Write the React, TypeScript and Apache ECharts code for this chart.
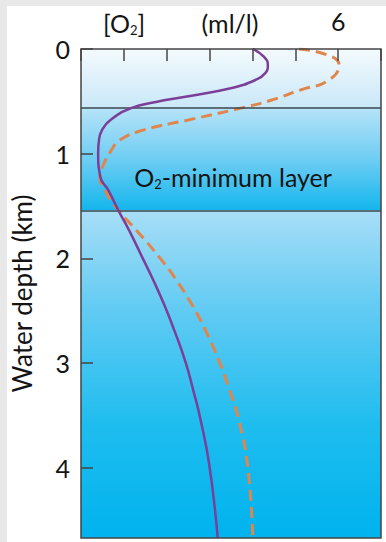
import React, { useEffect, useRef } from "react";
import * as echarts from "echarts";

// O2 concentration (ml/l) vs water depth (km)
const solidDepth = [0, 0.07, 0.153, 0.23, 0.296, 0.372, 0.458, 0.506, 0.564, 0.68, 0.775, 0.87, 0.985, 1.22, 1.35, 1.54, 1.73, 1.99, 2.21, 2.45, 2.69, 2.99, 3.26, 3.54, 3.99, 4.67];
const solidO2 = [4.01, 4.26, 4.36, 4.3, 4.07, 3.52, 2.4, 1.75, 1.17, 0.68, 0.49, 0.42, 0.4, 0.45, 0.64, 0.87, 1.12, 1.43, 1.69, 1.95, 2.18, 2.44, 2.62, 2.79, 3.0, 3.19];

const dashedDepth = [0, 0.06, 0.15, 0.3, 0.39, 0.49, 0.565, 0.68, 0.775, 0.87, 0.985, 1.11, 1.22, 1.35, 1.54, 1.73, 1.99, 2.21, 2.45, 2.69, 2.99, 3.26, 3.54, 3.99, 4.67];
const dashedO2 = [5.09, 5.77, 6.02, 5.77, 5.13, 4.43, 3.73, 2.48, 1.45, 0.91, 0.68, 0.52, 0.44, 0.56, 0.87, 1.29, 1.83, 2.23, 2.6, 2.91, 3.23, 3.47, 3.68, 3.89, 4.01];

// layer boundaries (km)
const layerBounds = [0, 0.565, 1.54, 4.67];
const depthTicks = [0, 1, 2, 3, 4];
const o2LabelTick = 6;

const grad = (stops: [number, string][]) => ({
  type: "linear",
  x: 0,
  y: 0,
  x2: 0,
  y2: 1,
  colorStops: stops.map(([offset, color]) => ({ offset, color })),
});

const FONT = "Lato";
const FS = 25;
const INK = "#141414";

export default function App() {
  const ref = useRef<HTMLDivElement>(null);
  useEffect(() => {
    if (!ref.current) return;
    const chart = echarts.init(ref.current, undefined, { renderer: "svg" });
    const option: any = {
      animation: false,
      backgroundColor: "#ffffff",
      textStyle: { fontFamily: FONT },
      graphic: [
        { type: "rect", shape: { x: 0, y: 0, width: 7, height: 542 }, style: { fill: "#e8e8e8" }, z: -10 },
        { type: "rect", shape: { x: 0, y: 0, width: 386, height: 6 }, style: { fill: "#e8e8e8" }, z: -10 },
        {
          type: "text",
          x: 124,
          y: 23,
          style: {
            text: "[O{s|2}]",
            fontFamily: FONT,
            fontSize: FS,
            fill: INK,
            align: "center",
            verticalAlign: "middle",
            rich: { s: { fontSize: 13, fontFamily: FONT, fill: INK, padding: [14, 0, 0, 0] } },
          },
        },
        {
          type: "text",
          x: 230,
          y: 23,
          style: {
            text: "(ml/l)",
            fontFamily: FONT,
            fontSize: FS,
            fill: INK,
            align: "center",
            verticalAlign: "middle",
          },
        },
      ],
      grid: {
        left: 81,
        top: 49,
        width: 300,
        height: 489,
        show: true,
        borderColor: "#444",
        borderWidth: 1.5,
        backgroundColor: "transparent",
        z: 10,
      },
      xAxis: {
        type: "value",
        position: "top",
        min: 0,
        max: 7,
        interval: 1,
        z: 10,
        splitLine: { show: false },
        axisLine: { show: false },
        axisTick: { show: true, inside: true, length: 12, lineStyle: { color: "#444", width: 1.5 } },
        axisLabel: {
          margin: 16,
          fontSize: FS,
          color: INK,
          fontFamily: FONT,
          formatter: (v: number) => (v === o2LabelTick ? String(v) : ""),
        },
      },
      yAxis: {
        type: "value",
        inverse: true,
        min: layerBounds[0],
        max: layerBounds[3],
        interval: 1,
        z: 10,
        splitLine: { show: false },
        axisLine: { show: false },
        axisTick: { show: true, inside: true, length: 12, lineStyle: { color: "#444", width: 1.5 } },
        axisLabel: {
          margin: 11,
          fontSize: FS,
          color: INK,
          fontFamily: FONT,
          padding: [10, 0, 0, 0],
          showMaxLabel: false,
          formatter: (v: number) => (depthTicks.includes(v) ? String(v) : ""),
        },
        name: "Water depth (km)",
        nameLocation: "middle",
        nameGap: 46,
        nameRotate: 90,
        nameTextStyle: { fontSize: 26, color: INK, fontFamily: FONT },
      },
      series: [
        {
          name: "O₂ profile (solid)",
          type: "line",
          data: solidO2.map((v, i) => [v, solidDepth[i]]),
          smooth: 0.5,
          showSymbol: false,
          lineStyle: { color: "#7b3f98", width: 2.5 },
          z: 5,
          markArea: {
            silent: true,
            z: 1,
            data: [
              [
                { yAxis: layerBounds[0], itemStyle: { color: grad([[0, "#f4fafd"], [1, "#c9e8f8"]]) } },
                { yAxis: layerBounds[1] },
              ],
              [
                {
                  yAxis: layerBounds[1],
                  itemStyle: { color: grad([[0, "#b6e3f8"], [0.5, "#6ecdf3"], [1, "#14b6ed"]]) },
                  label: {
                    show: true,
                    position: "inside",
                    offset: [2, 18],
                    formatter: "O{s|2}-minimum layer",
                    fontSize: FS,
                    color: INK,
                    fontFamily: FONT,
                    rich: { s: { fontSize: 13, color: INK, fontFamily: FONT, padding: [14, 0, 0, 0] } },
                  },
                },
                { yAxis: layerBounds[2] },
              ],
              [
                {
                  yAxis: layerBounds[2],
                  itemStyle: { color: grad([[0, "#a8def7"], [0.3, "#62cbf3"], [0.65, "#1fbdef"], [1, "#00b3ee"]]) },
                },
                { yAxis: layerBounds[3] },
              ],
            ],
          },
          markLine: {
            silent: true,
            symbol: "none",
            label: { show: false },
            lineStyle: { color: "#3a464e", width: 1.5, type: "solid" },
            data: [{ yAxis: layerBounds[1] }, { yAxis: layerBounds[2] }],
          },
        },
        {
          name: "O₂ profile (dashed)",
          type: "line",
          data: dashedO2.map((v, i) => [v, dashedDepth[i]]),
          smooth: 0.5,
          showSymbol: false,
          lineStyle: { color: "#e0864d", width: 3, type: [11, 6] },
          z: 4,
        },
      ],
    };
    chart.setOption(option);
    return () => chart.dispose();
  }, []);
  return (
    <div
      ref={ref}
      style={{ position: "fixed", left: 0, top: 0, width: 386, height: 542 }}
    />
  );
}
